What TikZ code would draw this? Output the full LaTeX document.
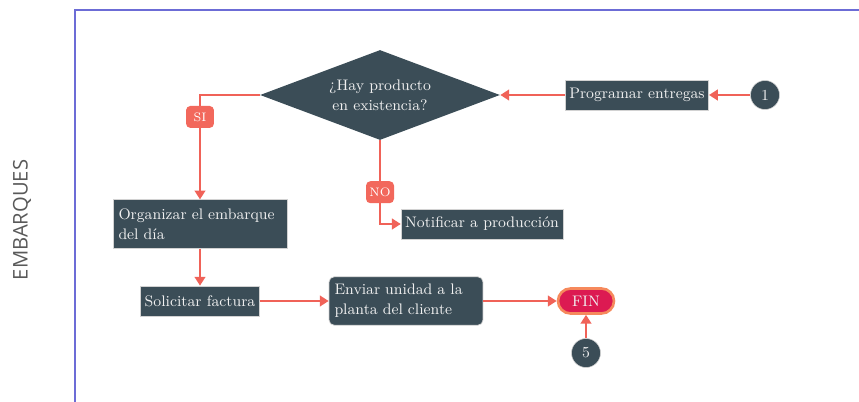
\documentclass[tikz,border=0pt]{standalone}
\usepackage{fontspec}
\newfontfamily\lanefont{Open Sans}
\usetikzlibrary{shapes.geometric,arrows.meta}
\definecolor{slate}{RGB}{59,77,87}
\definecolor{coral}{RGB}{240,98,88}
\definecolor{tagred}{RGB}{242,104,92}
\definecolor{finred}{RGB}{220,26,82}
\definecolor{finedge}{RGB}{246,137,92}
\definecolor{lanecol}{RGB}{108,108,214}
\tikzset{txt/.style={text=white!94!black, font=\fontsize{8.7}{11.5}\selectfont}}
\tikzset{task/.style={txt, draw=gray!35, line width=0.4pt, fill=slate, inner xsep=0.08cm, inner ysep=0.1cm, minimum height=0.6cm}}
\tikzset{longtask/.style={task, align=left, inner xsep=0.11cm, text width=#1, minimum height=0.97cm}}
\tikzset{question/.style={txt, diamond, fill=slate, aspect=2.67, inner sep=0pt, minimum width=4.8cm, minimum height=1.8cm, align=center}}
\tikzset{conn/.style={txt, circle, fill=slate, draw=gray!35, line width=0.3pt, minimum size=0.58cm, inner sep=0pt}}
\tikzset{tag/.style={fill=tagred, text=white, rounded corners=2.5pt, minimum width=0.56cm, minimum height=0.44cm, inner sep=1pt, font=\fontsize{7}{8}\selectfont}}
\tikzset{finbox/.style={txt, fill=finred, draw=finedge, line width=1.5pt, rounded corners=0.25cm, minimum width=1.12cm, minimum height=0.5cm}}
\tikzset{flow/.style={draw=coral, line width=1.3pt, -{Triangle[length=5pt,width=6pt]}}}

\begin{document}
\begin{tikzpicture}[x=0.02cm, y=-0.02cm]
\useasboundingbox (0,0) rectangle (859,402);
% swimlane
\draw[lanecol, line width=0.9pt] (75,402) |- (859,10);
\node[rotate=90, text=black!65, font=\lanefont\fontsize{11.5}{12}\selectfont] (lane) at (22,220) {EMBARQUES};

% nodes
\node[conn] (uno) at (765,95) {1};
\node[task, minimum width=2.82cm] (prog) at (637,95) {Programar entregas};
\node[question] (hay) at (380,95) {¿Hay producto\\en existencia?};
\node[longtask=3.26cm] (org) at (200,224) {Organizar el embarque\\del día};
\node[task, minimum width=3.18cm] (notif) at (482,224) {Notificar a producción};
\node[task, minimum width=2.3cm] (sol) at (200,301) {Solicitar factura};
\node[longtask=2.86cm, rounded corners=3pt] (env) at (406,301) {Enviar unidad a la\\planta del cliente};
\node[finbox] (fin) at (586,301) {FIN};
\node[conn] (cinco) at (586,353) {5};

% connectors
\draw[flow] (uno) -- (prog);
\draw[flow] (prog) -- (hay.east);
\draw[flow] (hay.west) -| node[tag, pos=0.605] (si) {SI} (org.north);
\draw[flow] (hay.south) |- node[tag, pos=0.31] (no) {NO} (notif.west);
\draw[flow] (org) -- (sol);
\draw[flow] (sol) -- (env);
\draw[flow] (env) -- (fin);
\draw[flow] (cinco) -- (fin);
\end{tikzpicture}
\end{document}
